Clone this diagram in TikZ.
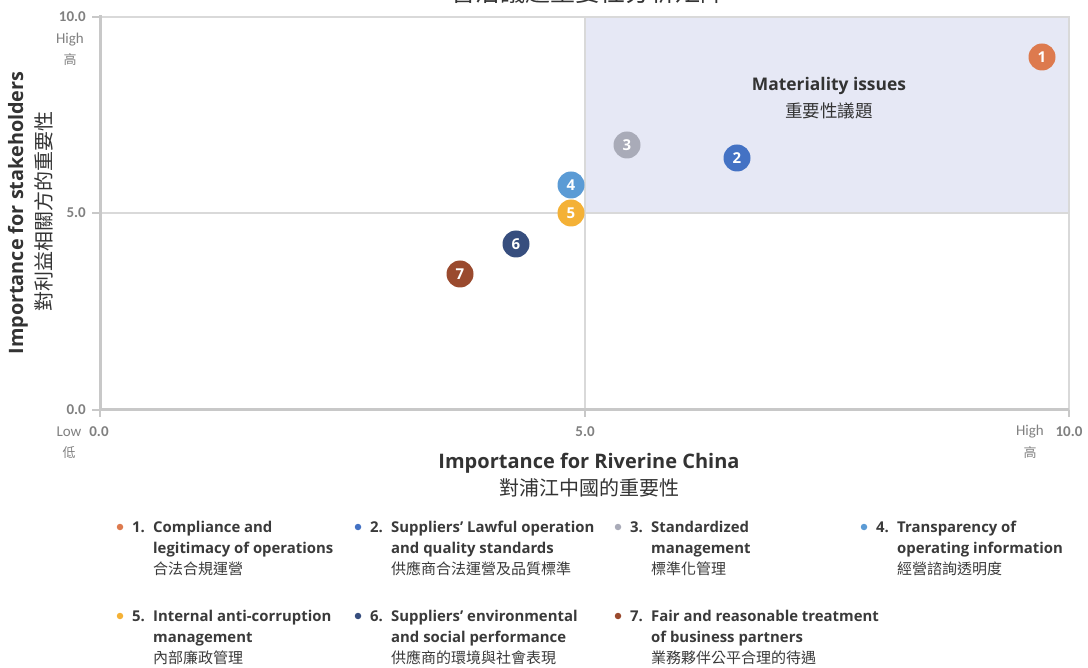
\documentclass[tikz,border=0pt]{standalone}
\usepackage{fontspec}
\setmainfont{Open Sans}
\newfontfamily\cjk{Noto Sans CJK TC}
\newfontfamily\cond{Carlito}
\definecolor{axisgray}{HTML}{C8C8C8}
\definecolor{gridgray}{HTML}{D9D9D9}
\definecolor{shadecol}{HTML}{E6E8F5}
\definecolor{ticktext}{HTML}{808080}
\definecolor{titletext}{HTML}{333333}
\definecolor{legtext}{HTML}{3A3A3A}
\definecolor{cOne}{HTML}{DD7A4E}
\definecolor{cTwo}{HTML}{4472C4}
\definecolor{cThree}{HTML}{A9ABB8}
\definecolor{cFour}{HTML}{5B9BD5}
\definecolor{cFive}{HTML}{F4B136}
\definecolor{cSix}{HTML}{374E7E}
\definecolor{cSeven}{HTML}{9A4A2E}
\tikzset{
  dot/.style={circle,minimum size=27pt,inner sep=0pt,text=white,font=\fontsize{15}{15}\selectfont\bfseries},
  ticklab/.style={text=ticktext,font=\cond\fontsize{15}{15}\selectfont,inner sep=0pt},
  tickbold/.style={text=ticktext,font=\cond\bfseries\fontsize{15}{15}\selectfont,inner sep=0pt},
  tickcjk/.style={text=ticktext,font=\cjk\fontsize{13}{13}\selectfont,inner sep=0pt},
  legbold/.style={anchor=base west,inner sep=0pt,text=legtext,font=\fontsize{14.9}{14.9}\selectfont\bfseries},
  legcjk/.style={anchor=base west,inner sep=0pt,text=legtext,font=\cjk\fontsize{15}{15}\selectfont},
  legdot/.style={circle,inner sep=0pt,minimum size=6.5pt}
}
\newcommand{\legitem}[7]{%
  \node[legdot,fill=#3] (b#4) at (#1,#2) {};
  \node[legbold] (n#4) at (#1+12,#2+5.3) {#4.};
  \node[legbold] (la#4) at (#1+33,#2+5.3) {#5};
  \node[legbold] (lb#4) at (#1+33,#2+26.3) {#6};
  \node[legcjk] (lc#4) at (#1+33,#2+47.5) {#7};
}
\begin{document}
\begin{tikzpicture}[x=1pt,y=-1pt]
\useasboundingbox (0,0) rectangle (1088,668);
% title (cut off at top, as in the reference)
\node[anchor=base,inner sep=0pt,text=titletext,font=\cjk\fontsize{25}{25}\selectfont] (title) at (588,1.5) {管治議題重要性分析矩陣};
% shaded region
\fill[shadecol] (585,17) rectangle (1069,213);
% grid
\draw[gridgray,line width=1.5pt] (100,17) -- (1069,17) -- (1069,410);
\draw[gridgray,line width=1.5pt] (585,17) -- (585,410);
\draw[gridgray,line width=1.5pt] (100,213) -- (1069,213);
% axes
\draw[axisgray,line width=3pt] (100,15.5) -- (100,410) -- (1069,410);
\foreach \yy in {17,213,410} \draw[axisgray,line width=1.2pt] (92,\yy) -- (100,\yy);
\foreach \xx in {100,585,1069} \draw[axisgray,line width=1.2pt] (\xx,410) -- (\xx,417);
% y tick labels
\node[tickbold,anchor=east] (y10) at (86,17) {10.0};
\node[ticklab] (yhigh) at (70,40) {High};
\node[tickcjk] (yhighc) at (70,60) {高};
\node[tickbold,anchor=east] (y5) at (86,213) {5.0};
\node[tickbold,anchor=east] (y0) at (86,410) {0.0};
% x tick labels
\node[ticklab] (xlow) at (69,432) {Low};
\node[tickbold] (x0) at (99,432) {0.0};
\node[tickcjk] (xlowc) at (69,453) {低};
\node[tickbold] (x5) at (585,432) {5.0};
\node[ticklab] (xhigh) at (1030,432) {High};
\node[tickbold] (x10) at (1069,432) {10.0};
\node[tickcjk] (xhighc) at (1030,453) {高};
% axis titles
\node[inner sep=0pt,text=titletext,font=\bfseries\fontsize{20}{20}\selectfont] (xt) at (589,463) {Importance for Riverine China};
\node[inner sep=0pt,text=titletext,font=\cjk\fontsize{20}{20}\selectfont] (xtc) at (589,488) {對浦江中國的重要性};
\node[inner sep=0pt,rotate=90,text=titletext,font=\bfseries\fontsize{19.8}{19.8}\selectfont] (yt) at (18,213) {Importance for stakeholders};
\node[inner sep=0pt,rotate=90,text=titletext,font=\cjk\fontsize{20}{20}\selectfont] (ytc) at (44,212) {對利益相關方的重要性};
% materiality label
\node[inner sep=0pt,text=titletext,font=\bfseries\fontsize{17.4}{17.4}\selectfont] (mat) at (829,86) {Materiality issues};
\node[inner sep=0pt,text=titletext,font=\cjk\fontsize{17.5}{17.5}\selectfont] (matc) at (829,111) {重要性議題};
% points
\node[dot,fill=cOne] (p1) at (1042,57) {1};
\node[dot,fill=cTwo] (p2) at (737,158) {2};
\node[dot,fill=cThree] (p3) at (627,145) {3};
\node[dot,fill=cFour] (p4) at (571,185) {4};
\node[dot,fill=cFive] (p5) at (571,213) {5};
\node[dot,fill=cSix] (p6) at (516,244) {6};
\node[dot,fill=cSeven] (p7) at (460,274) {7};
% legend
\legitem{120}{527}{cOne}{1}{Compliance and}{legitimacy of operations}{合法合規運營}
\legitem{358}{527}{cTwo}{2}{Suppliers’ Lawful operation}{and quality standards}{供應商合法運營及品質標準}
\legitem{618}{527}{cThree}{3}{Standardized}{management}{標準化管理}
\legitem{864}{527}{cFour}{4}{Transparency of}{operating information}{經營諮詢透明度}
\legitem{120}{616}{cFive}{5}{Internal anti-corruption}{management}{內部廉政管理}
\legitem{358}{616}{cSix}{6}{Suppliers’ environmental}{and social performance}{供應商的環境與社會表現}
\legitem{618}{616}{cSeven}{7}{Fair and reasonable treatment}{of business partners}{業務夥伴公平合理的待遇}
\end{tikzpicture}
\end{document}
